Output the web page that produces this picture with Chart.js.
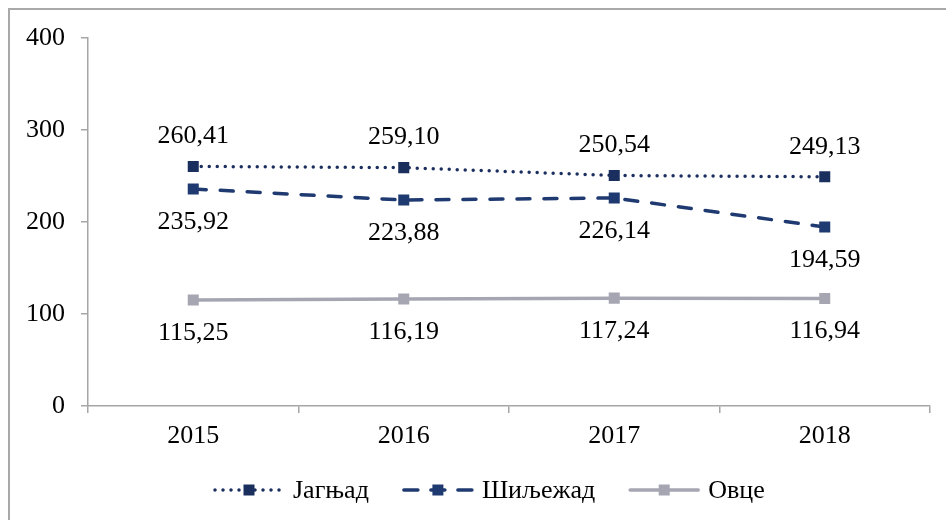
<!DOCTYPE html>
<html>
<head>
<meta charset="utf-8">
<script src="https://cdn.jsdelivr.net/npm/chart.js@4/dist/chart.umd.min.js"></script>
<style>
  html, body { margin: 0; padding: 0; background: #fff; overflow: hidden; }
  #wrap { position: absolute; left: 0; top: 0; width: 946px; height: 520px; }
  #frame { position: absolute; left: 8px; top: 8px; width: 1000px; height: 600px;
           border: 2px solid #A9A9A9; box-sizing: border-box; }
</style>
</head>
<body>
<div id="frame"></div>
<div id="wrap"><canvas id="myChart" width="946" height="520"></canvas></div>
<script>
// data
var godine = ['2015', '2016', '2017', '2018'];
var jagnjad = [260.41, 259.10, 250.54, 249.13];
var siljezad = [235.92, 223.88, 226.14, 194.59];
var ovce = [115.25, 116.19, 117.24, 116.94];
var yTicks = [0, 100, 200, 300, 400];

var font = 'Liberation Serif, Times New Roman, serif';

function fmt(v){
    return v.toFixed(2).replace('.', ',');
}

// labels above/below points + custom legend
var labelsPlugin = {
    id: 'labelsPlugin',
    afterDatasetsDraw: function(chart){
        var ctx = chart.ctx;
        ctx.save();
        ctx.font = '26px ' + font;
        ctx.fillStyle = '#000';
        ctx.textAlign = 'center';
        ctx.textBaseline = 'middle';
        chart.data.datasets.forEach(function(ds, i){
            var meta = chart.getDatasetMeta(i);
            meta.data.forEach(function(pt, j){
                var dy = ds.labelPos == 'top' ? -30 : 33;
                ctx.fillText(fmt(ds.data[j]), pt.x, pt.y + dy);
            });
        });
        ctx.restore();
    },
    afterDraw: function(chart){
        var ctx = chart.ctx;
        ctx.save();
        ctx.font = '26px ' + font;
        var lineLen = 68, gapTxt = 10, gapItem = 35;
        var x = 215;
        var y = 490;
        chart.data.datasets.forEach(function(ds){
            ctx.strokeStyle = ds.borderColor;
            ctx.lineWidth = ds.borderWidth;
            ctx.lineCap = ds.borderCapStyle || 'butt';
            ctx.setLineDash(ds.legendDash || []);
            ctx.beginPath();
            ctx.moveTo(x, y);
            ctx.lineTo(x + lineLen, y);
            ctx.stroke();
            ctx.setLineDash([]);
            ctx.fillStyle = ds.pointBackgroundColor;
            ctx.fillRect(x + lineLen / 2 - 5.5, y - 5.5, 11, 11);
            ctx.fillStyle = '#000';
            ctx.textAlign = 'left';
            ctx.textBaseline = 'middle';
            ctx.fillText(ds.label, x + lineLen + gapTxt, y + 1);
            x += lineLen + gapTxt + ctx.measureText(ds.label).width + gapItem;
        });
        ctx.restore();
    }
};

var canvas = document.getElementById('myChart');
var ctx = canvas.getContext('2d');

var config = {
    type: 'line',
    data: {
        labels: godine,
        datasets: [{
            label: 'Јагњад',
            data: jagnjad,
            borderColor: '#1B2F5F',
            backgroundColor: '#1B2F5F',
            pointBackgroundColor: '#1B2F5F',
            pointBorderColor: '#1B2F5F',
            borderWidth: 3.5,
            borderDash: [0, 8],
            legendDash: [0, 8],
            borderCapStyle: 'round',
            pointStyle: 'rect',
            pointRadius: 7.8,
            pointBorderWidth: 0,
            tension: 0,
            labelPos: 'top'
        }, {
            label: 'Шиљежад',
            data: siljezad,
            borderColor: '#1F3A70',
            backgroundColor: '#1F3A70',
            pointBackgroundColor: '#1F3A70',
            pointBorderColor: '#1F3A70',
            borderWidth: 3.5,
            borderDash: [13, 14],
            legendDash: [14, 13],
            borderCapStyle: 'round',
            pointStyle: 'rect',
            pointRadius: 7.8,
            pointBorderWidth: 0,
            tension: 0,
            labelPos: 'bottom'
        }, {
            label: 'Овце',
            data: ovce,
            borderColor: '#A6A6B3',
            backgroundColor: '#A6A6B3',
            pointBackgroundColor: '#A6A6B3',
            pointBorderColor: '#A6A6B3',
            borderWidth: 3.5,
            borderCapStyle: 'round',
            pointStyle: 'rect',
            pointRadius: 7.8,
            pointBorderWidth: 0,
            tension: 0,
            labelPos: 'bottom'
        }]
    },
    options: {
        responsive: false,
        animation: false,
        layout: { padding: { left: 0, top: 38, right: 16, bottom: 64 } },
        plugins: {
            legend: { display: false },
            tooltip: { enabled: false }
        },
        scales: {
            x: {
                offset: true,
                grid: { offset: true, drawOnChartArea: false, drawTicks: true, tickLength: 7, color: '#A6A6A6', lineWidth: 1.5 },
                border: { color: '#A6A6A6', width: 1.5 },
                ticks: { color: '#000', font: { family: font, size: 26 }, padding: 8, maxRotation: 0 },
                afterFit: function(s){ s.height = 50; }
            },
            y: {
                min: 0,
                max: 400,
                afterBuildTicks: function(s){ s.ticks = yTicks.map(function(v){ return { value: v }; }); },
                grid: { drawOnChartArea: false, drawTicks: true, tickLength: 7, color: '#A6A6A6', lineWidth: 1.5 },
                border: { color: '#A6A6A6', width: 1.5 },
                ticks: { color: '#000', font: { family: font, size: 26 }, padding: 16 },
                afterFit: function(s){ s.width = 88; }
            }
        }
    },
    plugins: [labelsPlugin]
};

window.myLine = new Chart(ctx, config);
</script>
</body>
</html>
